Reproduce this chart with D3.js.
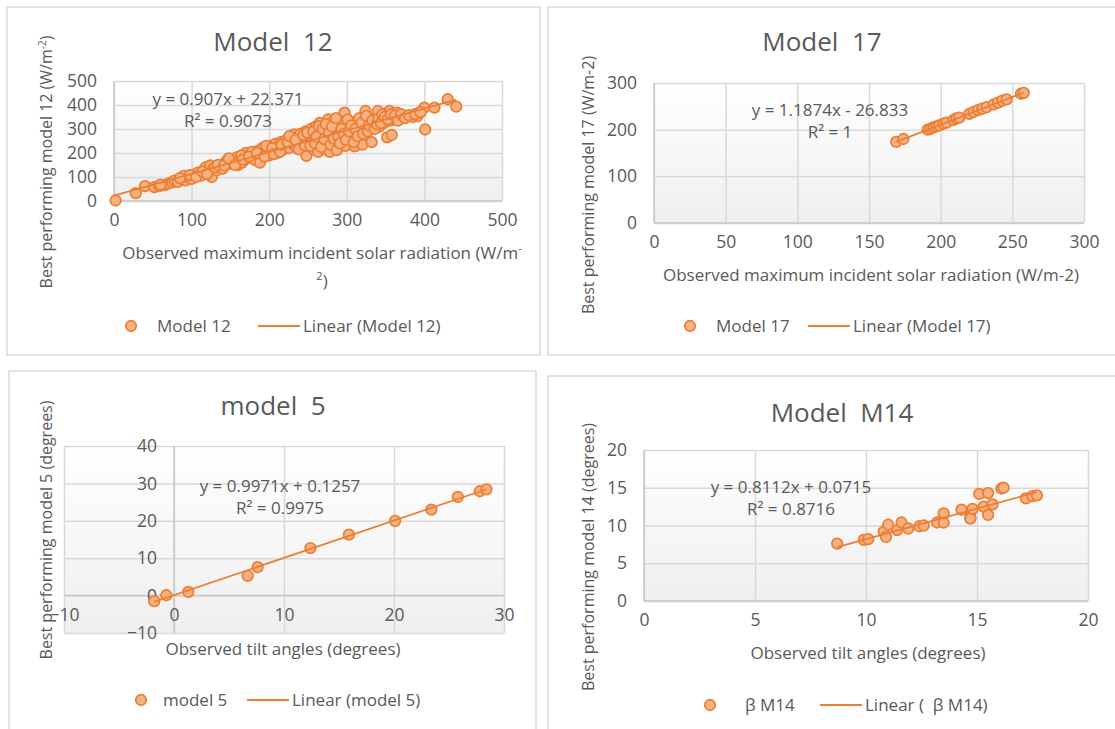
<!DOCTYPE html>
<html>
<head>
<meta charset="utf-8">
<script src="https://cdn.jsdelivr.net/npm/d3@7"></script>
<style>
body { margin: 0; background: #fff; }
text { font-family: "Open Sans", sans-serif; fill: #595959; }
</style>
</head>
<body>
<div id="chart"></div>
<script>
// Model 12: observed vs modelled maximum incident solar radiation
var m12X = [2, 28, 40, 52, 58, 65, 70, 75, 78, 82, 88, 90, 92, 96, 100, 104, 108, 112, 116, 118,
    122, 124, 126, 128, 132, 135, 138, 140, 144, 146, 150, 152, 155, 158, 160, 162, 165, 168, 170, 172,
    175, 178, 180, 182, 186, 188, 190, 192, 195, 198, 200, 202, 205, 208, 210, 212, 215, 218, 220, 222,
    225, 228, 230, 232, 235, 236, 238, 240, 242, 245, 247, 248, 250, 252, 254, 256, 258, 260, 262, 263,
    265, 266, 268, 270, 272, 275, 276, 278, 280, 282, 284, 285, 288, 290, 292, 295, 297, 298, 300, 302,
    305, 308, 310, 312, 315, 318, 320, 322, 324, 326, 328, 330, 332, 335, 338, 340, 342, 345, 348, 350,
    352, 355, 356, 358, 360, 363, 365, 368, 372, 378, 385, 391, 393, 400, 401, 413, 430, 441,
    60, 85, 98, 106, 114, 120, 130, 134, 142, 148, 156, 164, 166, 174, 184, 194, 196, 204, 206, 214,
    216, 224, 226, 234, 238, 244, 246, 249, 253, 257, 259, 261, 264, 267, 269, 271, 273, 277, 279, 281,
    283, 286, 287, 289, 291, 293, 296, 299, 301, 303, 306, 309, 311, 314, 316, 319, 321, 325, 327, 329,
    333, 336, 339, 341, 344, 346, 349, 353, 357, 362, 366, 370, 375, 380, 388, 395];
var m12Y = [2, 33, 62, 58, 62, 66, 72, 78, 85, 80, 92, 105, 86, 98, 92, 110, 118, 106, 130, 140,
    120, 148, 100, 135, 128, 142, 150, 135, 160, 170, 155, 172, 165, 182, 150, 175, 160, 185, 200, 178,
    192, 205, 188, 170, 210, 160, 195, 222, 205, 215, 190, 230, 210, 238, 200, 225, 245, 215, 250, 232,
    220, 260, 240, 278, 225, 265, 250, 280, 228, 262, 290, 188, 245, 270, 300, 218, 255, 310, 230, 205,
    325, 275, 248, 290, 215, 305, 340, 205, 265, 330, 240, 300, 220, 285, 315, 250, 368, 230, 275, 320,
    300, 265, 228, 330, 310, 290, 235, 345, 375, 320, 300, 340, 245, 330, 355, 375, 310, 340, 325, 365,
    265, 375, 335, 275, 350, 340, 368, 345, 355, 354, 350, 354, 368, 389, 298, 389, 424, 393,
    68, 95, 108, 100, 122, 112, 140, 150, 148, 178, 150, 190, 172, 185, 200, 185, 230, 220, 195, 205,
    235, 245, 270, 255, 215, 275, 232, 285, 230, 290, 240, 268, 312, 225, 300, 258, 320, 285, 235, 310,
    260, 345, 212, 270, 240, 300, 280, 255, 340, 290, 315, 245, 300, 270, 345, 325, 280, 355, 290, 315,
    335, 300, 320, 345, 325, 360, 350, 340, 362, 355, 335, 362, 345, 358, 362, 370];
var m12Fit = [0.907, 22.371];
var m12Ticks = [0, 100, 200, 300, 400, 500];

// Model 17
var m17X = [169, 174, 191, 193, 195, 197, 199, 202, 204, 209, 211, 213, 220, 223, 226, 229, 232, 237, 240, 243, 246, 256, 258];
var m17Y = [174, 180, 200, 202, 205, 207, 209, 213, 215, 221, 224, 226, 234, 238, 242, 245, 248, 254, 258, 262, 265, 277, 279];
var m17Fit = [1.1874, -26.833];
var m17XTicks = [0, 50, 100, 150, 200, 250, 300];
var m17YTicks = [0, 100, 200, 300];

// model 5
var m5X = [-1.8, -0.7, 1.3, 6.7, 7.6, 12.4, 15.9, 20.1, 23.4, 25.8, 27.8, 28.4];
var m5Y = [-1.5, 0.1, 1.0, 5.3, 7.6, 12.7, 16.3, 20.0, 23.0, 26.4, 27.9, 28.4];
var m5Fit = [0.9971, 0.1257];
var m5XTicks = [-10, 0, 10, 20, 30];
var m5YTicks = [-10, 0, 10, 20, 30, 40];

// Model M14
var m14X = [8.7, 9.9, 10.1, 10.8, 11.0, 10.9, 11.4, 11.6, 11.9, 12.4, 12.6, 13.2, 13.5, 13.5, 14.3, 14.7, 14.7,
    14.8, 15.1, 15.3, 15.5, 15.5, 15.7, 16.1, 16.2, 17.2, 17.5, 17.7];
var m14Y = [7.6, 8.1, 8.2, 9.2, 10.1, 8.5, 9.4, 10.4, 9.6, 9.9, 10.0, 10.4, 10.4, 11.6, 12.1, 11.1, 10.9,
    12.2, 14.2, 12.5, 14.3, 11.4, 12.8, 14.9, 15.0, 13.6, 13.9, 14.0];
var m14Fit = [0.8112, 0.0715];
var m14Ticks = [0, 5, 10, 15, 20];

var orange = "#ed7d31", orangeFill = "#f4b183", grid = "#d9d9d9";

var svg = d3.select("#chart").append("svg")
    .attr("width", 1115)
    .attr("height", 729);

var grad = svg.append("defs").append("linearGradient")
    .attr("id", "plotbg").attr("x1", 0).attr("y1", 0).attr("x2", 0).attr("y2", 1);
grad.append("stop").attr("offset", "0%").attr("stop-color", "#ffffff");
grad.append("stop").attr("offset", "100%").attr("stop-color", "#efefef");

function drawPanel(p) {
    var g = svg.append("g");

    // panel border
    g.append("rect")
        .attr("x", p.box[0]).attr("y", p.box[1])
        .attr("width", p.box[2]).attr("height", p.box[3])
        .attr("fill", "#fff").attr("stroke", grid).attr("stroke-width", 1.5);

    var x = d3.scaleLinear().domain(p.xDomain).range([p.plot[0], p.plot[2]]);
    var y = d3.scaleLinear().domain(p.yDomain).range([p.plot[3], p.plot[1]]);
    var w = p.plot[2] - p.plot[0], h = p.plot[3] - p.plot[1];

    // plot area
    g.append("rect")
        .attr("x", p.plot[0]).attr("y", p.plot[1])
        .attr("width", w).attr("height", h)
        .attr("fill", "url(#plotbg)");

    // gridlines
    g.append("g")
        .attr("transform", "translate(0," + p.plot[3] + ")")
        .call(d3.axisBottom(x).tickValues(p.xTicks).tickSize(-h).tickFormat(""))
        .call(function (a) { a.select(".domain").remove(); a.selectAll("line").attr("stroke", grid).attr("stroke-width", 1.5); });
    g.append("g")
        .attr("transform", "translate(" + p.plot[0] + ",0)")
        .call(d3.axisLeft(y).tickValues(p.yTicks).tickSize(-w).tickFormat(""))
        .call(function (a) { a.select(".domain").remove(); a.selectAll("line").attr("stroke", grid).attr("stroke-width", 1.5); });

    // axis lines (where the axes cross)
    var ax = p.cross ? x(0) : p.plot[0];
    var ay = p.cross ? y(0) : p.plot[3];
    g.append("line").attr("x1", p.plot[0]).attr("x2", p.plot[2]).attr("y1", ay).attr("y2", ay)
        .attr("stroke", "#c8c8c8").attr("stroke-width", 1.5);
    g.append("line").attr("x1", ax).attr("x2", ax).attr("y1", p.plot[1]).attr("y2", p.plot[3])
        .attr("stroke", "#c8c8c8").attr("stroke-width", 1.5);

    // tick labels
    g.append("g")
        .attr("transform", "translate(0," + ay + ")")
        .call(d3.axisBottom(x).tickValues(p.xTicks).tickSize(0).tickPadding(13))
        .call(function (a) { a.select(".domain").remove(); a.selectAll("text").style("font-size", "17.5px").attr("fill", "#595959"); });
    g.append("g")
        .attr("transform", "translate(" + ax + ",0)")
        .call(d3.axisLeft(y).tickValues(p.yTicks).tickSize(0).tickPadding(17))
        .call(function (a) { a.select(".domain").remove(); a.selectAll("text").style("font-size", "17.5px").attr("fill", "#595959"); });

    // points
    g.append("g").selectAll("circle")
        .data(p.xs.map(function (d, i) { return [d, p.ys[i]]; }))
        .enter().append("circle")
        .attr("cx", function (d) { return x(d[0]); })
        .attr("cy", function (d) { return y(d[1]); })
        .attr("r", 5.3)
        .attr("fill", orangeFill)
        .attr("stroke", orange)
        .attr("stroke-width", 1.7);

    // linear trendline
    var ext = d3.extent(p.xs);
    if (p.fitFrom !== undefined) ext[0] = p.fitFrom;
    g.append("path")
        .datum(ext)
        .attr("fill", "none").attr("stroke", orange).attr("stroke-width", 1.7)
        .attr("d", d3.line()
            .x(function (d) { return x(d); })
            .y(function (d) { return y(p.fit[0] * d + p.fit[1]); }));

    // equation label
    var sign = p.fit[1] < 0 ? " - " : " + ";
    g.append("text").attr("x", p.eq[0]).attr("y", p.eq[1]).attr("text-anchor", "middle")
        .style("font-size", "17px")
        .text("y = " + p.fit[0] + "x" + sign + Math.abs(p.fit[1]));
    g.append("text").attr("x", p.eq[0]).attr("y", p.eq[1] + 22).attr("text-anchor", "middle")
        .style("font-size", "17px")
        .text("R² = " + p.r2);

    // title
    g.append("text").attr("x", p.title[0]).attr("y", p.title[1]).attr("text-anchor", "middle")
        .style("font-size", "26px").attr("xml:space", "preserve").text(p.title[2]);

    // x-axis title
    var xt = g.append("text").attr("x", p.xTitle[0]).attr("y", p.xTitle[1]).attr("text-anchor", "middle")
        .style("font-size", "17px");
    p.xTitle[2](xt);

    // y-axis title
    var yt = g.append("text")
        .attr("transform", "translate(" + p.yTitle[0] + "," + p.yTitle[1] + ") rotate(-90)")
        .attr("text-anchor", "middle").style("font-size", "16px");
    p.yTitle[2](yt);

    // legend
    var L = p.legend;
    g.append("circle").attr("cx", L[0]).attr("cy", L[1]).attr("r", 5.3)
        .attr("fill", orangeFill).attr("stroke", orange).attr("stroke-width", 1.7);
    g.append("text").attr("x", L[2]).attr("y", L[1]).attr("dy", "0.35em").style("font-size", "17px").text(L[3]);
    g.append("line").attr("x1", L[4]).attr("x2", L[4] + 42).attr("y1", L[1]).attr("y2", L[1])
        .attr("stroke", orange).attr("stroke-width", 1.8);
    g.append("text").attr("x", L[4] + 45).attr("y", L[1]).attr("dy", "0.35em").attr("xml:space", "preserve")
        .style("font-size", "17px").text(L[5]);
}

drawPanel({
    box: [7, 7, 533, 348], plot: [114, 81, 502, 201],
    xDomain: [0, 500], yDomain: [0, 500], xTicks: m12Ticks, yTicks: m12Ticks,
    xs: m12X, ys: m12Y, fit: m12Fit, r2: "0.9073", fitFrom: 0,
    eq: [228, 105], title: [273, 51, "Model  12"],
    xTitle: [322, 259, function (t) {
        t.append("tspan").text("Observed maximum incident solar radiation (W/m");
        t.append("tspan").attr("dy", -7).style("font-size", "11px").text("-");
        t.append("tspan").attr("x", 322).attr("dy", 28).style("font-size", "11px").text("2");
        t.append("tspan").attr("dy", 7).text(")");
    }],
    yTitle: [52, 162, function (t) {
        t.append("tspan").text("Best performing model 12 (W/m");
        t.append("tspan").attr("dy", -6).style("font-size", "10px").text("-2");
        t.append("tspan").attr("dy", 6).text(")");
    }],
    legend: [131, 326, 157, "Model 12", 258, "Linear (Model 12)"]
});

drawPanel({
    box: [548, 7, 580, 348], plot: [654, 83, 1084, 223],
    xDomain: [0, 300], yDomain: [0, 300], xTicks: m17XTicks, yTicks: m17YTicks,
    xs: m17X, ys: m17Y, fit: m17Fit, r2: "1",
    eq: [830, 116], title: [822, 51, "Model  17"],
    xTitle: [871, 281, function (t) { t.text("Observed maximum incident solar radiation (W/m-2)"); }],
    yTitle: [594, 185, function (t) { t.text("Best performing model 17 (W/m-2)"); }],
    legend: [690, 326, 716, "Model 17", 808, "Linear (Model 17)"]
});

drawPanel({
    box: [9, 371, 527, 370], plot: [64, 446, 504, 633], cross: true,
    xDomain: [-10, 30], yDomain: [-10, 40], xTicks: m5XTicks, yTicks: m5YTicks,
    xs: m5X, ys: m5Y, fit: m5Fit, r2: "0.9975",
    eq: [280, 492], title: [273, 415, "model  5"],
    xTitle: [283, 655, function (t) { t.text("Observed tilt angles (degrees)"); }],
    yTitle: [52, 530, function (t) { t.text("Best performing model 5 (degrees)"); }],
    legend: [141, 700, 163, "model 5", 247, "Linear (model 5)"]
});

drawPanel({
    box: [548, 376, 580, 365], plot: [644, 450, 1088, 601],
    xDomain: [0, 20], yDomain: [0, 20], xTicks: m14Ticks, yTicks: m14Ticks,
    xs: m14X, ys: m14Y, fit: m14Fit, r2: "0.8716",
    eq: [791, 493], title: [842, 422, "Model  M14"],
    xTitle: [868, 659, function (t) { t.text("Observed tilt angles (degrees)"); }],
    yTitle: [594, 557, function (t) { t.text("Best performing model 14 (degrees)"); }],
    legend: [710, 705, 745, "β M14", 820, "Linear (  β M14)"]
});
</script>
</body>
</html>
